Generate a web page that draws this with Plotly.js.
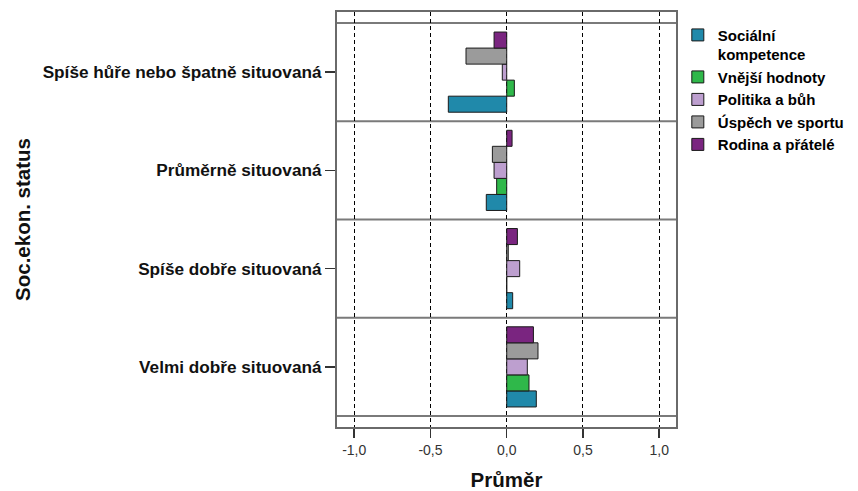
<!DOCTYPE html>
<html><head><meta charset="utf-8">
<script src="https://cdn.plot.ly/plotly-3.0.1.min.js"></script>
<style>html,body{margin:0;padding:0;background:#fff}#chart{width:858px;height:491px}</style>
</head><body><div id="chart"></div>
<script>
// Categories, bottom to top as drawn
const categories = ["Velmi dobře situovaná", "Spíše dobře situovaná", "Průměrně situovaná", "Spíše hůře nebo špatně situovaná"];
const seriesNames = ["Sociální<br>kompetence", "Vnější hodnoty", "Politika a bůh", "Úspěch ve sportu", "Rodina a přátelé"];
const socialni = [0.194, 0.039, -0.134, -0.383];
const vnejsi   = [0.146, 0.000, -0.066, 0.050];
const politika = [0.135, 0.085, -0.083, -0.029];
const uspech   = [0.205, 0.010, -0.094, -0.267];
const rodina   = [0.175, 0.070, 0.035, -0.083];
const xTickVals = [-1.0, -0.5, 0.0, 0.5, 1.0];
const xTickText = ["-1,0", "-0,5", "0,0", "0,5", "1,0"];

const seriesValues = [socialni, vnejsi, politika, uspech, rodina];
const colors = ["#2089aa", "#2fb84a", "#bd9fcf", "#9b9b9b", "#7a2580"];

const traces = seriesValues.map((vals, i) => ({
  type: "bar", orientation: "h",
  x: vals, y: categories, name: seriesNames[i],
  marker: {color: colors[i], line: {color: "#1a1a1a", width: 1}},
  hoverinfo: "x+y"
}));

const sepLines = [-0.5, 0.5, 1.5, 2.5, 3.5].map(v => ({
  type: "line", xref: "paper", x0: 0, x1: 1, yref: "y", y0: v, y1: v,
  line: {color: "#7a7a7a", width: 2}, layer: "below"
}));

const layout = {
  width: 858, height: 491,
  margin: {l: 337, r: 182, t: 12, b: 64},
  paper_bgcolor: "#fff", plot_bgcolor: "#fff",
  font: {family: "Liberation Sans, Arial, sans-serif", color: "#000", size: 13},
  separators: ",.",
  barmode: "group", bargap: 0.184, bargroupgap: 0,
  showlegend: true,
  legend: {xref: "container", yref: "container", x: 0.790, xanchor: "left", y: 0.962, yanchor: "top",
           valign: "top",
           font: {size: 15, weight: "bold", color: "#000"}, tracegroupgap: 0, itemwidth: 30,
           bgcolor: "rgba(0,0,0,0)"},
  xaxis: {
    range: [-1.113, 1.11], tickvals: xTickVals, ticktext: xTickText,
    showgrid: true, gridcolor: "#000", griddash: "4px,3px", gridwidth: 1,
    zeroline: false,
    showline: true, mirror: true, linecolor: "#6a6a6a", linewidth: 2,
    ticks: "outside", ticklen: 9, tickcolor: "#333", tickwidth: 1.5,
    tickfont: {size: 14, color: "#333"},
    title: {text: "Průměr", font: {size: 20.5, weight: "bold", color: "#111"}, standoff: 17}
  },
  yaxis: {
    type: "category", categoryorder: "array", categoryarray: categories,
    range: [-0.612, 3.612],
    showgrid: false, zeroline: false,
    showline: true, mirror: true, linecolor: "#6a6a6a", linewidth: 2,
    ticks: "outside", ticklen: 10, tickcolor: "#333", tickwidth: 1.5,
    tickfont: {size: 17.2, weight: "bold", color: "#111"},
    title: {text: "Soc.ekon. status", font: {size: 20.5, weight: "bold", color: "#111"}, standoff: 6}
  },
  shapes: sepLines
};

Plotly.newPlot("chart", traces, layout, {displayModeBar: false, staticPlot: true});
</script></body></html>
